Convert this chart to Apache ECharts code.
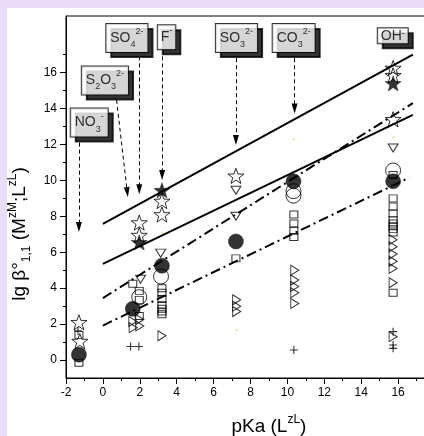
<!DOCTYPE html>
<html><head><meta charset="utf-8">
<script src="https://cdn.jsdelivr.net/npm/echarts@6/dist/echarts.min.js"></script>
<style>
html,body{margin:0;padding:0;width:424px;height:436px;overflow:hidden;background:#EBDCF8;}
#c{position:absolute;left:7px;top:8px;width:417px;height:428px;background:#fff;}
</style></head><body><div id="c"></div>
<script>
// ---------- data ----------
const xTickLabels = [-2, 0, 2, 4, 6, 8, 10, 12, 14, 16];
const yTickLabels = [0, 2, 4, 6, 8, 10, 12, 14, 16];
const yMinorTicks = [1, 3, 5, 7, 9, 11, 13, 15, 17];

const openStar = [[-1.3,2.1],[-1.25,1.05],[1.97,7.65],[1.97,6.95],[3.2,8.85],[3.2,8.1],[7.21,10.25],[15.73,16.25],[15.73,15.85],[15.73,13.4]];
const filledStar = [[3.2,9.45],[15.73,15.4],[1.97,6.55]];
const filledCircle = [[-1.3,0.3],[1.62,2.85],[3.2,5.25],[7.21,6.6],[10.33,9.95],[15.73,9.95]];
const openCircle = [[1.97,3.5],[3.15,4.65],[10.33,9.4],[10.33,9.15],[15.73,10.55]];
const openSquare = [[-1.3,1.4],[-1.3,-0.15],[1.62,4.25],[1.97,3.85],[1.97,3.35],[1.97,2.45],
  [3.2,4.0],[3.2,3.75],[3.2,3.4],[3.2,3.05],[3.2,2.85],[3.2,2.7],[3.2,2.55],
  [7.21,5.66],[10.35,8.1],[10.35,7.6],[10.35,7.2],[10.35,6.85],
  [15.73,10.3],[15.73,9.0],[15.73,8.55],[15.73,8.15],[15.73,7.8],[15.73,7.6],[15.73,7.45],[15.73,7.3],[15.73,7.1],[15.73,3.75]];
const triangleDown = [[2.04,4.5],[3.13,5.95],[7.21,9.45],[7.21,8.0],[15.73,11.8]];
const triangleRight = [[1.62,2.15],[2.0,2.25],[2.0,1.9],[1.64,1.8],[3.2,1.35],[7.25,3.35],[7.25,3.0],[7.25,2.7],
  [10.4,5.0],[10.4,4.45],[10.4,4.1],[10.4,3.75],[10.4,3.15],
  [15.73,6.7],[15.73,6.3],[15.73,5.9],[15.73,5.5],[15.73,5.1],[15.73,4.3],[15.73,1.3]];
const plusMark = [[-1.35,1.62],[1.5,0.75],[1.95,0.75],[10.35,0.56],[15.73,1.58],[15.73,0.84],[15.73,0.65]];
const tinyDot = [[10.34,12.3],[15.75,12.4],[7.25,1.67],[3.23,7.09]];

const fitUpperSolid = [[0,7.58],[16.8,17.0]];
const fitLowerSolid = [[0,5.35],[16.8,13.65]];
const fitUpperDashDot = [[0,3.45],[16.8,14.3]];
const fitLowerDashDot = [[0,1.92],[16.6,10.15]];

const ligandLabels = ['{m|NO}{sub|3}{sup|-}','{m|S}{sub|2}{m|O}{sub|3}{sup|2-}','{m|SO}{sub|4}{sup|2-}','{m|F}{sup|-}','{m|SO}{sub|3}{sup|2-}','{m|CO}{sub|3}{sup|2-}','{s|OH}{ssup|-}'];
const ligandAnchor = [[-0.74,13.22],[0.11,15.56],[1.30,17.93],[3.45,17.97],[7.24,17.93],[10.34,17.93],[15.71,18.05]];
const arrowFrom = [[-1.3,12.1],[0.74,14.48],[1.97,16.9],[3.21,16.9],[7.21,16.8],[10.39,16.8]];
const arrowTo = [[-1.3,7.4],[1.32,9.35],[1.97,9.5],[3.21,10.3],[7.21,12.25],[10.39,14.0]];

// ---------- chart ----------
const FF = "'Liberation Sans', Arial, sans-serif";
function starPath(){
  let s = '';
  for (let i = 0; i < 10; i++) {
    const a = (-90 + i * 36) * Math.PI / 180;
    const r = i % 2 ? 0.4 : 1;
    s += (i ? 'L' : 'M') + (1 + r * Math.cos(a)).toFixed(4) + ',' + (1 + r * Math.sin(a)).toFixed(4);
  }
  return 'path://' + s + 'Z';
}
const STAR = starPath();
const TRI_R = 'path://M0,0L1,0.5L0,1Z';
const TRI_D = 'path://M0,0L1,0L0.5,1Z';
const PLUS = 'path://M0.43,0H0.57V0.43H1V0.57H0.57V1H0.43V0.57H0V0.43H0.43Z';
const ARROW = 'path://M0,0M1,1M0.5,0L0.8,1L0.2,1Z';

function sc(name, data, symbol, size, filled, extra) {
  return Object.assign({
    type: 'scatter', name, data, symbol, symbolSize: size, symbolKeepAspect: true,
    xAxisIndex: 0, yAxisIndex: 0,
    itemStyle: filled ? { color: '#000', borderColor: '#000', borderWidth: 0.5 }
                      : { color: 'rgba(0,0,0,0)', borderColor: '#000', borderWidth: 1 },
    z: 5
  }, extra || {});
}
function fit(name, data, type) {
  return { type: 'line', name, data, showSymbol: false, symbol: 'none',
    lineStyle: { color: '#000', width: 2, type }, z: 3, xAxisIndex: 0, yAxisIndex: 0 };
}
const boxRich = {
  m:   { fontSize: 14, lineHeight: 22, fontFamily: FF, color: '#000' },
  sub: { fontSize: 9, lineHeight: 10, verticalAlign: 'bottom', fontFamily: FF, color: '#000' },
  sup: { fontSize: 9, lineHeight: 10, verticalAlign: 'top', fontFamily: FF, color: '#000' },
  s:   { fontSize: 14, lineHeight: 14, fontFamily: FF, color: '#000' },
  ssup:{ fontSize: 9, lineHeight: 9, verticalAlign: 'top', fontFamily: FF, color: '#000' }
};
const titleRich = {
  m:   { fontSize: 19, lineHeight: 26, fontFamily: FF, color: '#000' },
  sub: { fontSize: 12, lineHeight: 12, verticalAlign: 'bottom', fontFamily: FF, color: '#000' },
  sup: { fontSize: 12, lineHeight: 12, verticalAlign: 'top', fontFamily: FF, color: '#000' }
};
const boxPadding = [[3,4,3,4],[3,4,3,4],[3,4,3,4],[1,3,1,3],[3,4,3,4],[3,4,3,4],[1,3,0,3]];

const chart = echarts.init(document.getElementById('c'), null, { renderer: 'canvas' });
const gridBox = { left: 59, top: 8, bottom: 58, right: -47.9, containLabel: false, outerBoundsMode: 'none' };
chart.setOption({
  animation: false,
  backgroundColor: '#fff',
  grid: [
    Object.assign({ show: true, borderColor: '#000', borderWidth: 1, backgroundColor: 'transparent' }, gridBox),
    Object.assign({ show: false }, gridBox)
  ],
  xAxis: [{
    type: 'value', gridIndex: 0, min: -2, max: 20, interval: 2,
    axisLine: { onZero: false, lineStyle: { color: '#000', width: 1 } },
    axisTick: { length: 6, lineStyle: { color: '#000' } },
    minorTick: { show: true, splitNumber: 2, length: 3, lineStyle: { color: '#000' } },
    axisLabel: { color: '#000', fontSize: 12, fontFamily: FF, margin: 9, customValues: xTickLabels },
    splitLine: { show: false },
    name: '{m|pKa (L}{sup|zL}{m|)}', nameLocation: 'middle', nameGap: 36,
    nameTextStyle: { rich: titleRich, padding: [0, 0, 0, 0] }
  }, {
    type: 'value', gridIndex: 1, min: -2, max: 20, show: false
  }],
  yAxis: [{
    type: 'value', gridIndex: 0, min: -1, max: 19.15, interval: 1,
    axisLine: { onZero: false, lineStyle: { color: '#000', width: 1 } },
    axisTick: { length: 6, lineStyle: { color: '#000' }, customValues: yTickLabels },
    axisLabel: { color: '#000', fontSize: 12, fontFamily: FF, margin: 9, customValues: yTickLabels },
    splitLine: { show: false },
    name: '{m|lg β°}{sub|1,1}{m| (M}{sup|zM}{m|;L}{sup|zL}{m|)}',
    nameLocation: 'middle', nameRotate: 90, nameGap: 32,
    nameTextStyle: { rich: titleRich, padding: [0, 74, 0, 0] }
  }, {
    type: 'value', gridIndex: 1, min: -1, max: 19.15, interval: 1, position: 'left',
    axisLine: { show: false, onZero: false },
    axisTick: { length: 3, lineStyle: { color: '#000' }, customValues: yMinorTicks },
    axisLabel: { show: false },
    splitLine: { show: false }
  }],
  series: [
    fit('upper solid fit', fitUpperSolid, 'solid'),
    fit('lower solid fit', fitLowerSolid, 'solid'),
    fit('upper dash-dot fit', fitUpperDashDot, [10, 4, 2, 4]),
    fit('lower dash-dot fit', fitLowerDashDot, [10, 4, 2, 4]),
    sc('open square', openSquare, 'rect', [8, 7], false),
    sc('triangle right', triangleRight, TRI_R, [8, 10], false, { symbolKeepAspect: false }),
    sc('triangle down', triangleDown, TRI_D, [10, 8], false, { symbolKeepAspect: false }),
    sc('plus', plusMark, PLUS, 8, true, { itemStyle: { color: '#000' } }),
    sc('open circle', openCircle, 'circle', 15, false),
    sc('filled circle', filledCircle, 'circle', 15, true),
    sc('open star', openStar, STAR, 16, false),
    sc('filled star', filledStar, STAR, 16, true),
    sc('dots', tinyDot, 'circle', 2, true, { itemStyle: { color: '#d8d070' } }),
    {
      type: 'lines', coordinateSystem: 'cartesian2d', xAxisIndex: 0, yAxisIndex: 0,
      symbol: ['none', ARROW], symbolSize: 10, z: 6,
      lineStyle: { color: '#000', width: 1, type: [4, 3], opacity: 1 },
      data: arrowFrom.map((f, i) => ({ coords: [f, arrowTo[i]] }))
    },
    {
      type: 'scatter', name: 'ligands', xAxisIndex: 0, yAxisIndex: 0, symbolSize: 0, z: 10,
      data: ligandAnchor.map((p, i) => ({ value: p, label: { formatter: ligandLabels[i], padding: boxPadding[i] } })),
      label: {
        show: true, position: 'inside', rich: boxRich,
        backgroundColor: '#fff', borderColor: '#000', borderWidth: 1, padding: [3, 4, 3, 4],
        shadowColor: '#000', shadowBlur: 0, shadowOffsetX: 5, shadowOffsetY: 5
      }
    }
  ]
});
</script></body></html>
